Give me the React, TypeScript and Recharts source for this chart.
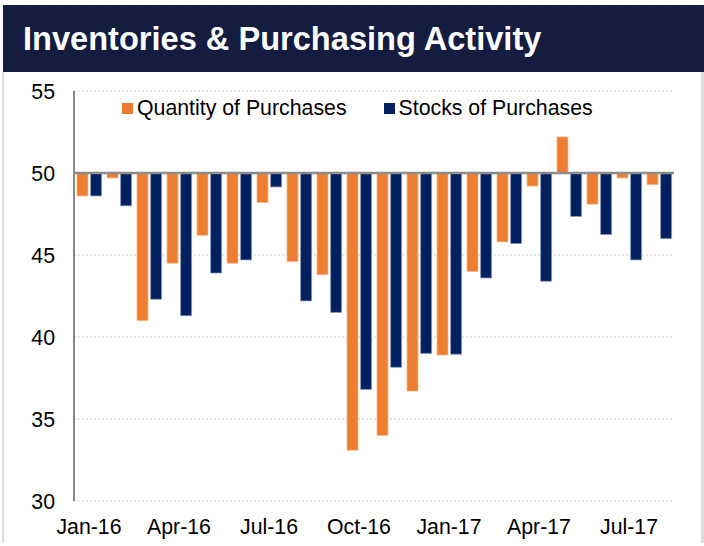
import React from 'react';
import { BarChart, Bar, XAxis, YAxis, CartesianGrid, ReferenceLine } from 'recharts';

const months = [
  'Jan-16', 'Feb-16', 'Mar-16', 'Apr-16', 'May-16', 'Jun-16', 'Jul-16', 'Aug-16', 'Sep-16', 'Oct-16',
  'Nov-16', 'Dec-16', 'Jan-17', 'Feb-17', 'Mar-17', 'Apr-17', 'May-17', 'Jun-17', 'Jul-17', 'Aug-17',
];
const quantity = [48.6, 49.7, 41.0, 44.5, 46.2, 44.5, 48.2, 44.6, 43.8, 33.1, 34.0, 36.7, 38.9, 44.0, 45.8, 49.2, 52.2, 48.1, 49.7, 49.3];
const stocks = [48.6, 48.0, 42.3, 41.3, 43.9, 44.7, 49.15, 42.2, 41.5, 36.8, 38.15, 39.0, 38.95, 43.6, 45.7, 43.4, 47.35, 46.25, 44.7, 46.0];
const yTicks = [30, 35, 40, 45, 50, 55];

const series = [
  { key: 'qty', name: 'Quantity of Purchases', color: '#ED7D31', edge: '#f5b58a' },
  { key: 'stocks', name: 'Stocks of Purchases', color: '#002060', edge: '#8a9ab8' },
];

const data = months.map((m, i) => ({ month: m, qty: quantity[i], stocks: stocks[i] }));

const FONT = '"Liberation Sans", Arial, sans-serif';
const FS = 21.3;

export default function App() {
  return (
    <div style={{ position: 'absolute', left: 0, top: 0, width: 704, height: 546, background: '#fff', overflow: 'hidden' }}>
      <div
        style={{
          position: 'absolute', left: 2, top: 72, width: 697, height: 471,
          borderLeft: '2px solid #dedede', borderRight: '3px solid #dedede',
        }}
      />
      <div
        style={{
          position: 'absolute', left: 3, top: 5, width: 701, height: 67, background: '#141c40',
          color: '#fff', fontFamily: FONT, fontWeight: 'bold', fontSize: 32.6,
          display: 'flex', alignItems: 'center', paddingLeft: 20, boxSizing: 'border-box',
        }}
      >
        Inventories &amp; Purchasing Activity
      </div>
      <div style={{ position: 'absolute', left: 0, top: 0 }}>
        <BarChart
          width={704}
          height={546}
          data={data}
          margin={{ top: 91, right: 30, bottom: 15, left: 4 }}
          barSize={11}
          barGap={2.6}
        >
          <CartesianGrid vertical={false} stroke="#d0d0d0" strokeDasharray="2 2" />
          <XAxis
            dataKey="month"
            interval={2}
            axisLine={false}
            tickLine={false}
            tickSize={0}
            tickMargin={18}
            tick={{ fontSize: FS, fill: '#000', fontFamily: FONT }}
          />
          <YAxis
            domain={[30, 55]}
            ticks={yTicks}
            width={70}
            axisLine={{ stroke: '#888', strokeWidth: 2 }}
            tickLine={false}
            tickSize={0}
            tickMargin={19}
            tick={{ fontSize: FS, fill: '#000', fontFamily: FONT }}
          />
          {series.map((s) => (
            <Bar
              key={s.key}
              dataKey={(d: any) => [50, d[s.key]]}
              name={s.name}
              fill={s.color}
              stroke={s.edge}
              strokeWidth={0.75}
              isAnimationActive={false}
            />
          ))}
          <ReferenceLine y={50} stroke="#8c8c8c" strokeWidth={2.5} />
        </BarChart>
      </div>
      <div
        style={{
          position: 'absolute', left: 122, top: 96, height: 24, display: 'flex', alignItems: 'center',
          fontFamily: FONT, fontSize: FS, color: '#000', whiteSpace: 'nowrap',
        }}
      >
        {series.map((s, i) => (
          <div key={s.key} style={{ display: 'flex', alignItems: 'center', marginLeft: i === 0 ? 0 : 37 }}>
            <span style={{ width: 11, height: 11, background: s.color, display: 'inline-block', marginRight: 4 }} />
            <span>{s.name}</span>
          </div>
        ))}
      </div>
    </div>
  );
}
